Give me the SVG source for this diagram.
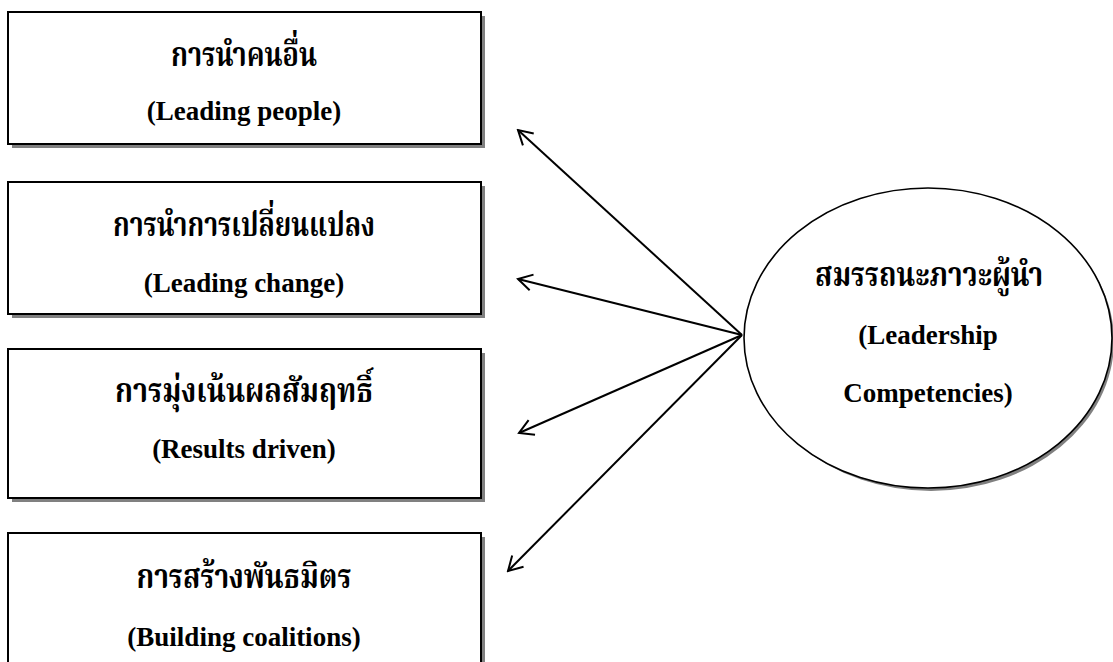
<svg xmlns="http://www.w3.org/2000/svg" width="1113" height="662" viewBox="0 0 1113 662">
  <defs>
    <style>
      .box { fill: #ffffff; stroke: #000000; stroke-width: 2; }
      .shadow { fill: #808080; stroke: none; }
      .oval { fill: #ffffff; stroke: #000000; stroke-width: 1.6; }
      .th { font-family: "Liberation Serif", "Noto Serif Thai", "Noto Sans Thai", serif; font-weight: bold; font-size: 34px; text-anchor: middle; fill: #000000; }
      .en { font-family: "Liberation Serif", serif; font-weight: bold; font-size: 27px; text-anchor: middle; fill: #000000; }
      .link { stroke: #000000; stroke-width: 2; fill: none; marker-end: url(#openHead); }
    </style>
    <marker id="openHead" viewBox="0 0 20 20" refX="18" refY="10" markerWidth="20" markerHeight="20" markerUnits="userSpaceOnUse" orient="auto">
      <path d="M4,2 L18,10 L4,18" fill="none" stroke="#000000" stroke-width="2"/>
    </marker>
  </defs>

  <rect width="1113" height="662" fill="#ffffff"/>

  <!-- competency boxes -->
  <g id="leading-people">
    <rect class="shadow" x="12" y="16" width="473" height="132"/>
    <rect class="box" x="8" y="12" width="473" height="132"/>
    <text class="th" x="244" y="66" textLength="146" lengthAdjust="spacingAndGlyphs">การนำคนอื่น</text>
    <text class="en" x="244" y="120">(Leading people)</text>
  </g>

  <g id="leading-change">
    <rect class="shadow" x="12" y="186" width="473" height="132"/>
    <rect class="box" x="8" y="182" width="473" height="132"/>
    <text class="th" x="244" y="236" textLength="262" lengthAdjust="spacingAndGlyphs">การนำการเปลี่ยนแปลง</text>
    <text class="en" x="244" y="292">(Leading change)</text>
  </g>

  <g id="results-driven">
    <rect class="shadow" x="12" y="353" width="473" height="149"/>
    <rect class="box" x="8" y="349" width="473" height="149"/>
    <text class="th" x="244" y="402" textLength="258" lengthAdjust="spacingAndGlyphs">การมุ่งเน้นผลสัมฤทธิ์</text>
    <text class="en" x="244" y="458">(Results driven)</text>
  </g>

  <g id="building-coalitions">
    <rect class="shadow" x="12" y="537" width="473" height="140"/>
    <rect class="box" x="8" y="533" width="473" height="140"/>
    <text class="th" x="244" y="588" textLength="215" lengthAdjust="spacingAndGlyphs">การสร้างพันธมิตร</text>
    <text class="en" x="244" y="646">(Building coalitions)</text>
  </g>

  <!-- central competency oval -->
  <g id="leadership-competencies">
    <ellipse class="shadow" cx="931" cy="341" rx="183" ry="150"/>
    <ellipse class="oval" cx="928" cy="338" rx="184" ry="150"/>
    <text class="th" x="929" y="286" textLength="228" lengthAdjust="spacingAndGlyphs">สมรรถนะภาวะผู้นำ</text>
    <text class="en" x="928" y="344">(Leadership</text>
    <text class="en" x="928" y="402">Competencies)</text>
  </g>

  <!-- connectors from the oval to each box -->
  <g id="connectors">
    <line class="link" x1="742" y1="335" x2="518" y2="130"/>
    <line class="link" x1="742" y1="335" x2="518" y2="279"/>
    <line class="link" x1="742" y1="335" x2="519" y2="433"/>
    <line class="link" x1="742" y1="335" x2="508" y2="571"/>
  </g>
</svg>
